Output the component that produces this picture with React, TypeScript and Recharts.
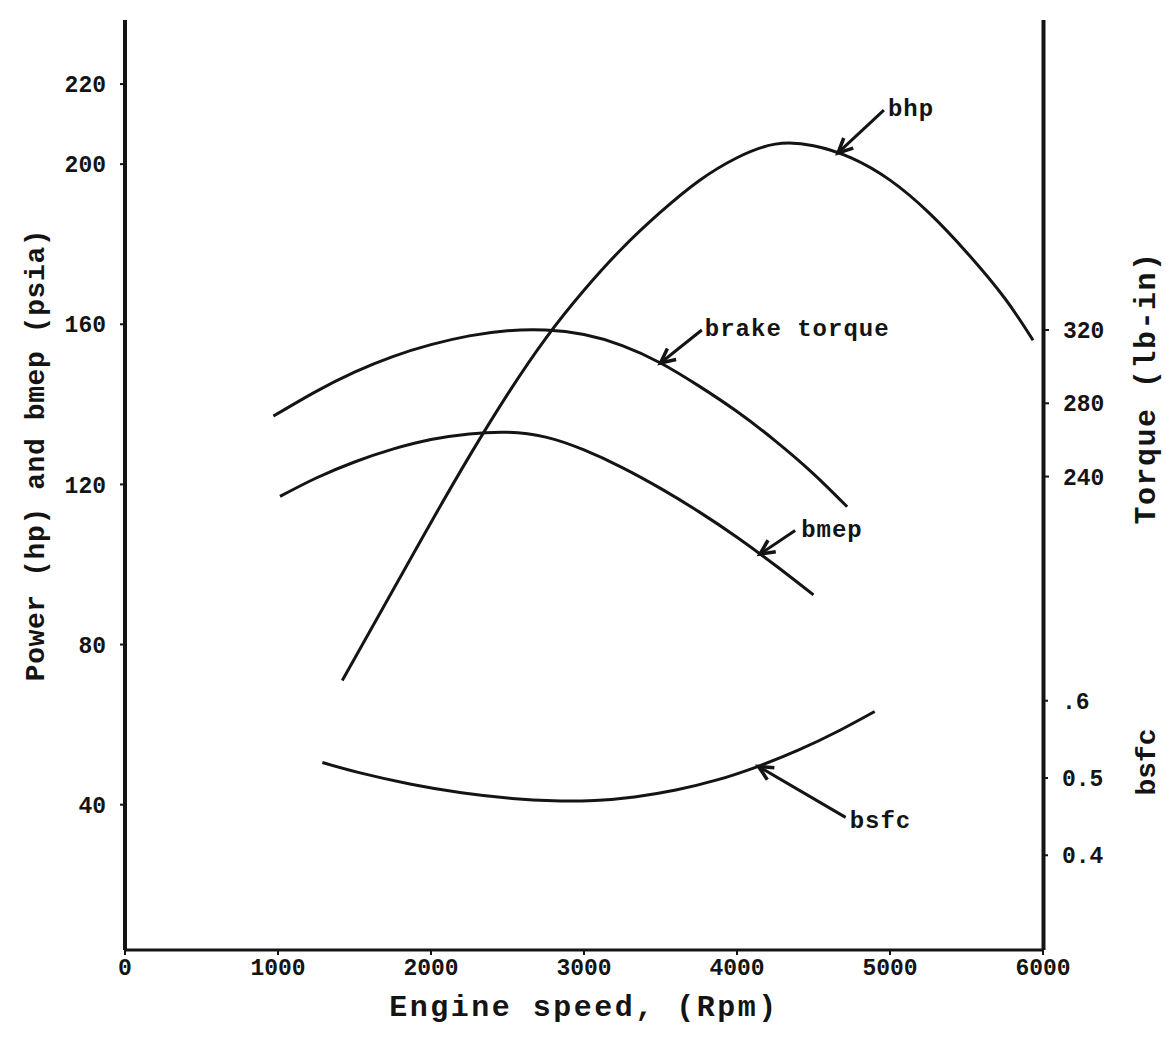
import { ComposedChart, Line, ReferenceLine, XAxis, YAxis } from 'recharts'

const rpmTicks = [0, 1000, 2000, 3000, 4000, 5000, 6000]
const powerTicks = [40, 80, 120, 160, 200, 220]
const torqueTicks = [240, 280, 320]
const bsfcTicks = [0.4, 0.5, 0.6]
const bsfcTickLabels = ['0.4', '0.5', '.6']

// bhp (hp) vs engine speed
const bhpRpm = [1420, 1750, 2000, 2250, 2500, 2750, 3000, 3250, 3500, 3750, 4000, 4250, 4500, 4750, 5000, 5250, 5500, 5750, 5935]
const bhpHp  = [71, 93.5, 110.5, 127, 142.5, 156.5, 168.5, 179, 188, 195.8, 201.6, 205, 204.6, 201.5, 196, 188, 178, 166.5, 156]

// brake torque (lb-in)
const torqueRpm  = [970, 1250, 1500, 1750, 2000, 2250, 2500, 2750, 3000, 3250, 3500, 3750, 4000, 4250, 4500, 4720]
const torqueLbIn = [273, 286.5, 297, 305.5, 312, 316.8, 319.6, 320, 317.5, 311.5, 302, 289.5, 275.5, 259.5, 241.5, 223.5]

// bmep (psia)
const bmepRpm  = [1013, 1250, 1500, 1750, 2000, 2250, 2500, 2750, 3000, 3250, 3500, 3750, 4000, 4250, 4500]
const bmepPsia = [117, 121.6, 125.6, 128.8, 131.2, 132.6, 133, 131.8, 128.6, 124.2, 119, 113.2, 106.8, 99.8, 92.4]

// bsfc
const bsfcRpm = [1290, 1530, 1870, 2200, 2530, 2800, 3070, 3330, 3600, 3870, 4130, 4400, 4670, 4900]
const bsfcVal = [0.52, 0.507, 0.492, 0.481, 0.4735, 0.4705, 0.471, 0.4755, 0.4845, 0.4975, 0.5145, 0.536, 0.5615, 0.586]

// callouts: label, axis, tail [rpm, value], tip [rpm, value]
const callouts = [
  { text: 'bhp', axis: 'power', tail: [4960, 213.5], tip: [4660, 202.8], dx: 4, dy: 0 },
  { text: 'brake torque', axis: 'torque', tail: [3770, 320], tip: [3500, 302], dx: 3, dy: 0 },
  { text: 'bmep', axis: 'power', tail: [4380, 108.5], tip: [4150, 102.6], dx: 6, dy: 0 },
  { text: 'bsfc', axis: 'bsfc', tail: [4710, 0.449], tip: [4140, 0.515], dx: 4, dy: 4 },
]

const FONT = '"Liberation Mono", "Courier New", monospace'
const INK = '#141414'

const toPts = (xs: number[], ys: number[]) => xs.map((rpm, i) => ({ rpm, v: ys[i] }))

const tickStyle = { fontFamily: FONT, fontWeight: 700, fontSize: 23, fill: INK }

function Arrow(text: string, dx: number, dy: number) {
  return (p: any) => {
    const { x1, y1, x2, y2 } = p
    const ang = Math.atan2(y2 - y1, x2 - x1)
    const len = 16
    const a1 = ang + Math.PI - 0.45
    const a2 = ang + Math.PI + 0.45
    return (
      <g>
        <line x1={x1} y1={y1} x2={x2} y2={y2} stroke={INK} strokeWidth={3} />
        <path
          d={`M${x2 + len * Math.cos(a1)},${y2 + len * Math.sin(a1)} L${x2},${y2} L${x2 + len * Math.cos(a2)},${y2 + len * Math.sin(a2)}`}
          fill="none"
          stroke={INK}
          strokeWidth={3.5}
        />
        <text
          x={x1 + dx}
          y={y1 + dy}
          dominantBaseline="middle"
          style={{ fontFamily: FONT, fontWeight: 700, fontSize: 24, letterSpacing: 1, fill: INK }}
        >
          {text}
        </text>
      </g>
    )
  }
}

const titleStyle: React.CSSProperties = {
  position: 'absolute',
  fontFamily: FONT,
  fontWeight: 700,
  fontSize: 28,
  color: INK,
  whiteSpace: 'nowrap',
  transform: 'translate(-50%, -50%) rotate(-90deg)',
}

export default function App() {
  return (
    <div style={{ position: 'absolute', left: 0, top: 0, width: 1166, height: 1057, background: '#fff' }}>
      <ComposedChart width={1166} height={1057} margin={{ top: 20, right: 121, bottom: 27, left: 0 }}>
        <XAxis
          type="number"
          dataKey="rpm"
          domain={[0, 6000]}
          ticks={rpmTicks}
          allowDataOverflow
          axisLine={{ stroke: INK, strokeWidth: 3 }}
          tickLine={{ stroke: INK, strokeWidth: 2 }}
          tickSize={5}
          tickMargin={4}
          tick={tickStyle}
          height={80}
          label={{
            value: 'Engine speed, (Rpm)',
            position: 'insideBottom',
            offset: 14,
            style: { fontFamily: FONT, fontWeight: 700, fontSize: 30, letterSpacing: 2.5, fill: INK },
          }}
        />
        <YAxis
          yAxisId="power"
          type="number"
          domain={[3.7, 236]}
          ticks={powerTicks}
          allowDataOverflow
          width={125}
          axisLine={{ stroke: INK, strokeWidth: 4 }}
          tickLine={{ stroke: INK, strokeWidth: 2 }}
          tickSize={5}
          tickMargin={14}
          tick={tickStyle}
        />
        <YAxis
          yAxisId="torque"
          orientation="right"
          type="number"
          domain={[-18.4, 489.2]}
          ticks={torqueTicks}
          allowDataOverflow
          width={1}
          axisLine={{ stroke: INK, strokeWidth: 3 }}
          tickLine={{ stroke: INK, strokeWidth: 2 }}
          tickSize={5}
          tickMargin={14}
          tick={tickStyle}
        />
        <YAxis
          yAxisId="bsfc"
          orientation="right"
          type="number"
          domain={[0.2774, 1.481]}
          ticks={bsfcTicks}
          tickFormatter={(v) => bsfcTickLabels[bsfcTicks.indexOf(v)] ?? ''}
          allowDataOverflow
          width={1}
          axisLine={{ stroke: INK, strokeWidth: 3 }}
          tickLine={{ stroke: INK, strokeWidth: 2 }}
          tickSize={5}
          tickMargin={14}
          tick={tickStyle}
        />

        <Line yAxisId="power" data={toPts(bhpRpm, bhpHp)} dataKey="v" type="natural" stroke={INK} strokeWidth={3} dot={false} isAnimationActive={false} />
        <Line yAxisId="torque" data={toPts(torqueRpm, torqueLbIn)} dataKey="v" type="natural" stroke={INK} strokeWidth={3} dot={false} isAnimationActive={false} />
        <Line yAxisId="power" data={toPts(bmepRpm, bmepPsia)} dataKey="v" type="natural" stroke={INK} strokeWidth={3} dot={false} isAnimationActive={false} />
        <Line yAxisId="bsfc" data={toPts(bsfcRpm, bsfcVal)} dataKey="v" type="natural" stroke={INK} strokeWidth={3} dot={false} isAnimationActive={false} />

        {callouts.map((c) => (
          <ReferenceLine
            key={c.text}
            yAxisId={c.axis}
            segment={[{ x: c.tail[0], y: c.tail[1] }, { x: c.tip[0], y: c.tip[1] }]}
            ifOverflow="visible"
            shape={Arrow(c.text, c.dx, c.dy)}
          />
        ))}
      </ComposedChart>

      <div style={{ ...titleStyle, left: 36, top: 455, letterSpacing: 0.6 }}>Power (hp) and bmep (psia)</div>
      <div style={{ ...titleStyle, left: 1147, top: 388, fontSize: 30, letterSpacing: 1.5 }}>Torque (lb-in)</div>
      <div style={{ ...titleStyle, left: 1147, top: 762 }}>bsfc</div>
    </div>
  )
}
